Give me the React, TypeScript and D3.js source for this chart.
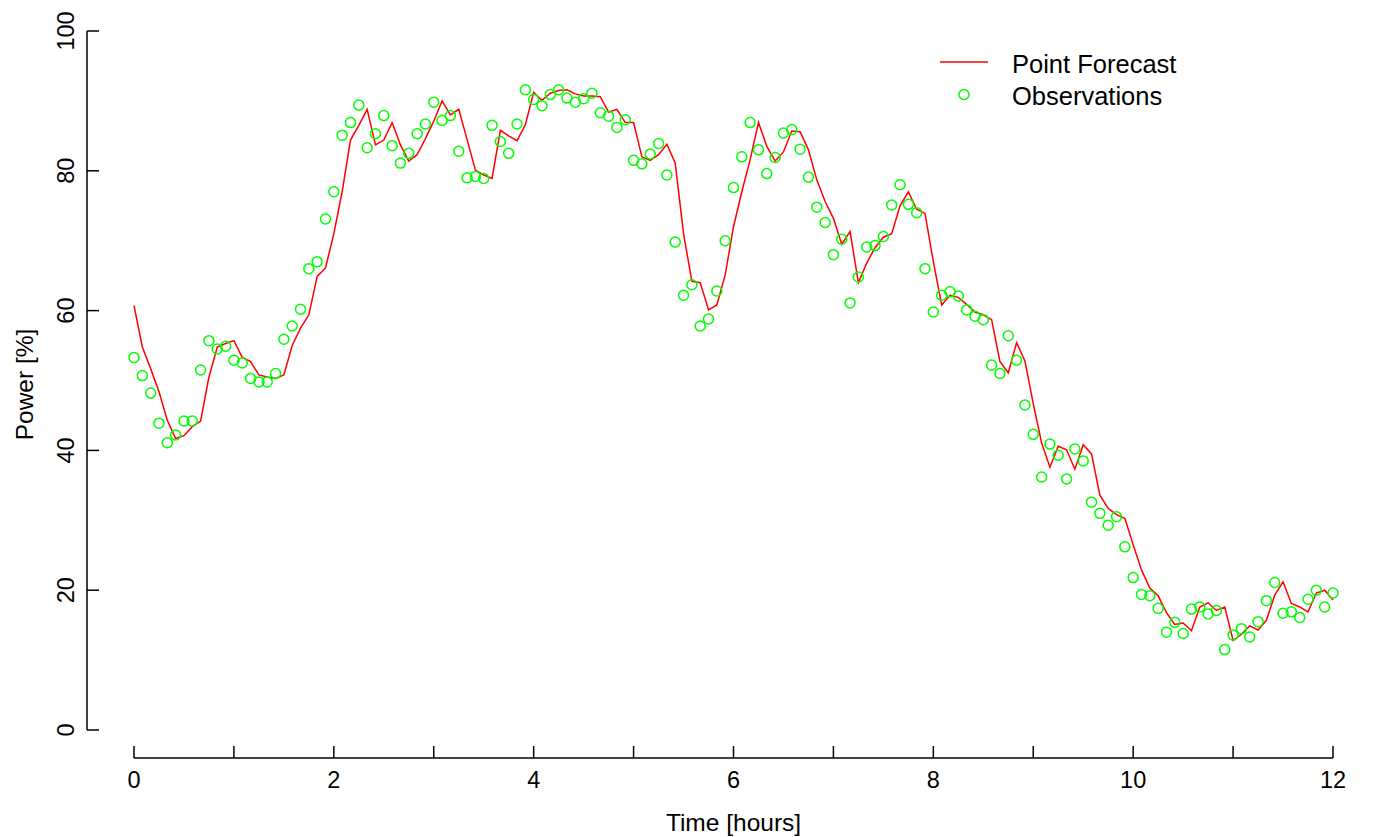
import React from "react";
import * as d3 from "d3";

// Observed power [%] every 5 minutes (145 points, 0..12 h)
const observations: number[] = [
  53.3, 50.7, 48.2, 43.9, 41.1, 42.2, 44.2, 44.2, 51.5, 55.7,
  54.5, 54.9, 52.9, 52.5, 50.3, 49.8, 49.8, 51.0, 55.9, 57.8,
  60.2, 66.0, 67.0, 73.1, 77.0, 85.1, 86.9, 89.4, 83.3, 85.3,
  87.9, 83.6, 81.1, 82.5, 85.3, 86.7, 89.8, 87.2, 87.9, 82.8,
  79.0, 79.2, 78.9, 86.5, 84.2, 82.5, 86.7, 91.6, 90.2, 89.3,
  90.9, 91.6, 90.4, 89.8, 90.3, 91.1, 88.3, 87.8, 86.2, 87.3,
  81.5, 81.0, 82.4, 83.9, 79.4, 69.8, 62.2, 63.7, 57.8, 58.8,
  62.8, 70.0, 77.6, 82.0, 86.9, 83.0, 79.6, 81.9, 85.4, 85.9,
  83.1, 79.1, 74.8, 72.6, 68.0, 70.2, 61.1, 64.8, 69.1, 69.3,
  70.6, 75.1, 78.0, 75.2, 74.0, 66.0, 59.8, 62.2, 62.7, 62.1,
  60.1, 59.2, 58.7, 52.2, 51.0, 56.4, 52.9, 46.5, 42.3, 36.2,
  40.9, 39.3, 35.9, 40.2, 38.5, 32.6, 31.0, 29.3, 30.5, 26.2,
  21.8, 19.4, 19.2, 17.4, 14.0, 15.4, 13.8, 17.3, 17.6, 16.6,
  17.1, 11.5, 13.6, 14.5, 13.3, 15.5, 18.5, 21.1, 16.7, 16.9,
  16.1, 18.7, 20.0, 17.6, 19.6,
];

// Point forecast [%] at the same times
const forecast: number[] = [
  60.7, 54.8, 51.7, 48.4, 44.3, 41.7, 42.1, 43.4, 44.2, 50.5,
  54.8, 55.3, 55.7, 53.3, 52.7, 50.8, 50.5, 50.3, 50.8, 55.0,
  57.5, 59.4, 64.9, 66.1, 71.0, 77.0, 84.4, 86.5, 88.8, 83.7,
  84.4, 86.9, 83.7, 81.4, 82.3, 84.6, 87.1, 90.0, 88.0, 88.8,
  84.5, 80.1, 79.4, 78.9, 85.8, 85.0, 84.3, 86.6, 91.2, 90.1,
  91.1, 91.5, 91.6, 91.0, 90.7, 90.7, 90.6, 88.4, 88.8, 86.9,
  86.9, 82.0, 81.5, 82.3, 83.8, 81.1, 71.0, 64.2, 64.0, 60.1,
  60.8, 65.1, 72.0, 77.0, 81.6, 86.9, 83.5, 81.4, 82.7, 85.7,
  85.6, 83.0, 78.7, 75.6, 73.2, 69.5, 71.3, 64.0, 66.8, 69.0,
  70.5, 71.0, 75.0, 77.0, 74.5, 73.9, 67.0, 60.8, 62.2, 61.9,
  60.9, 59.8, 59.4, 58.7, 52.7, 51.1, 55.4, 52.8, 46.7, 41.1,
  37.6, 40.6, 40.1, 37.3, 40.8, 39.5, 33.6, 31.7, 30.8, 30.3,
  26.5, 22.9, 20.3, 19.2, 16.8, 15.1, 15.3, 14.2, 17.6, 18.2,
  17.1, 17.6, 12.8, 13.7, 14.9, 14.3, 15.7, 19.3, 21.2, 18.1,
  17.6, 16.9, 19.6, 20.0, 18.6,
];

const stepsPerHour = 12;
const xTicks: number[] = [0, 1, 2, 3, 4, 5, 6, 7, 8, 9, 10, 11, 12];
const xTickLabels: number[] = [0, 2, 4, 6, 8, 10, 12];
const yTicks: number[] = [0, 20, 40, 60, 80, 100];
const legendItems: string[] = ["Point Forecast", "Observations"];

const W = 1373;
const H = 837;
const FONT = "'Liberation Sans', Arial, sans-serif";

export default function App() {
  const x = d3.scaleLinear().domain([0, 12]).range([134, 1333]);
  const y = d3.scaleLinear().domain([0, 100]).range([730, 31]);
  const yAxisX = 87;
  const xAxisY = 758;
  const tick = 12;

  const line = d3
    .line<number>()
    .x((_, i) => x(i / stepsPerHour))
    .y((d) => y(d));

  return (
    <svg
      width={W}
      height={H}
      style={{ position: "absolute", left: 0, top: 0, background: "#fff" }}
      fontFamily={FONT}
    >
      <rect x={0} y={0} width={W} height={H} fill="#fff" />
      {/* Forecast line */}
      <path d={line(forecast) || ""} fill="none" stroke="#ff0000" strokeWidth={1.5} />
      {/* Observations */}
      {observations.map((v, i) => (
        <circle
          key={i}
          cx={x(i / stepsPerHour)}
          cy={y(v)}
          r={5}
          fill="none"
          stroke="#00ff00"
          strokeWidth={1.5}
        />
      ))}

      {/* Y axis */}
      <line x1={yAxisX} x2={yAxisX} y1={y(0)} y2={y(100)} stroke="#000" strokeWidth={1.5} />
      {yTicks.map((t) => (
        <g key={t}>
          <line x1={yAxisX} x2={yAxisX + tick} y1={y(t)} y2={y(t)} stroke="#000" strokeWidth={1.5} />
          <text
            transform={`translate(${74},${y(t)}) rotate(-90)`}
            textAnchor="middle"
            fontSize={23.5}
            fill="#000"
          >
            {t}
          </text>
        </g>
      ))}
      <text
        transform={`translate(${33},${(y(0) + y(100)) / 2 + 4}) rotate(-90)`}
        textAnchor="middle"
        fontSize={24.5}
        fill="#000"
      >
        Power [%]
      </text>

      {/* X axis */}
      <line x1={x(0)} x2={x(12)} y1={xAxisY} y2={xAxisY} stroke="#000" strokeWidth={1.5} />
      {xTicks.map((t) => (
        <line key={t} x1={x(t)} x2={x(t)} y1={xAxisY} y2={xAxisY - tick} stroke="#000" strokeWidth={1.5} />
      ))}
      {xTickLabels.map((t) => (
        <text key={t} x={x(t)} y={788} textAnchor="middle" fontSize={23.5} fill="#000">
          {t}
        </text>
      ))}
      <text x={(x(0) + x(12)) / 2} y={831} textAnchor="middle" fontSize={24.5} fill="#000">
        Time [hours]
      </text>

      {/* Legend */}
      <line x1={940} x2={988} y1={62} y2={62} stroke="#ff0000" strokeWidth={1.5} />
      <circle cx={964} cy={94.5} r={5} fill="none" stroke="#00ff00" strokeWidth={1.5} />
      <text x={1012} y={73} fontSize={25.5} fill="#000">
        {legendItems[0]}
      </text>
      <text x={1012} y={105} fontSize={25.5} fill="#000">
        {legendItems[1]}
      </text>
    </svg>
  );
}
